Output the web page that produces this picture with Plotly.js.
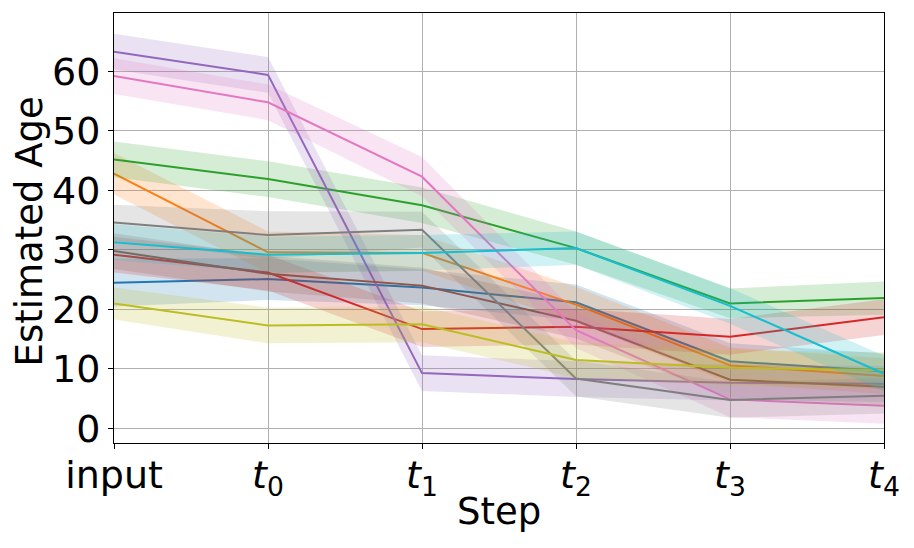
<!DOCTYPE html>
<html>
<head>
<meta charset="utf-8">
<script src="https://cdn.plot.ly/plotly-3.0.1.min.js"></script>
<style>html,body{margin:0;padding:0;background:#fff;}#chart{width:914px;height:548px;}</style>
</head>
<body>
<div id="chart"></div>
<script>
const steps = ["input", "<i>t</i><sub>0</sub>", "<i>t</i><sub>1</sub>", "<i>t</i><sub>2</sub>", "<i>t</i><sub>3</sub>", "<i>t</i><sub>4</sub>"];
const xTitle = "Step";
const yTitle = "Estimated Age";

const mean0 = [24.5, 25.1, 23.7, 21.2, 11.3, 9.6];
const mean1 = [42.8, 29.6, 29.5, 20.8, 10.6, 8.8];
const mean2 = [45.2, 41.9, 37.5, 30.3, 21.0, 21.9];
const mean3 = [29.2, 26.2, 16.7, 17.1, 15.4, 18.7];
const mean4 = [63.3, 59.4, 9.3, 8.3, 7.7, 7.5];
const mean5 = [29.8, 26.0, 24.0, 18.1, 8.2, 7.0];
const mean6 = [59.2, 54.8, 42.3, 16.5, 4.9, 3.8];
const mean7 = [34.6, 32.5, 33.4, 8.4, 4.8, 5.5];
const mean8 = [21.0, 17.3, 17.5, 11.5, 10.2, 9.8];
const mean9 = [31.3, 29.2, 29.5, 30.3, 20.6, 9.2];

const std0 = [4.0, 3.5, 3.0, 3.0, 3.0, 3.0];
const std1 = [3.5, 3.5, 3.0, 3.0, 3.0, 3.0];
const std2 = [3.0, 3.0, 3.0, 2.8, 2.5, 2.8];
const std3 = [3.0, 3.0, 3.0, 3.0, 3.0, 3.0];
const std4 = [3.0, 3.0, 3.0, 3.0, 3.0, 3.0];
const std5 = [3.0, 3.0, 3.0, 3.0, 3.0, 3.0];
const std6 = [3.0, 3.0, 3.3, 3.0, 3.0, 3.0];
const std7 = [3.0, 4.0, 3.0, 3.0, 3.0, 3.0];
const std8 = [2.7, 3.0, 3.0, 3.0, 3.0, 3.0];
const std9 = [3.0, 3.0, 3.0, 2.8, 3.0, 3.0];

const colors = ["#1f77b4", "#ff7f0e", "#2ca02c", "#d62728", "#9467bd", "#8c564b", "#e377c2", "#7f7f7f", "#bcbd22", "#17becf"];
const means = [mean0, mean1, mean2, mean3, mean4, mean5, mean6, mean7, mean8, mean9];
const stds = [std0, std1, std2, std3, std4, std5, std6, std7, std8, std9];

function rgba(hex, a) {
  const r = parseInt(hex.slice(1,3),16), g = parseInt(hex.slice(3,5),16), b = parseInt(hex.slice(5,7),16);
  return `rgba(${r},${g},${b},${a})`;
}

const traces = [];
means.forEach((m, i) => {
  const upper = m.map((v, k) => v + stds[i][k]);
  const lower = m.map((v, k) => v - stds[i][k]);
  traces.push({
    x: steps.concat(steps.slice().reverse()),
    y: upper.concat(lower.slice().reverse()),
    type: "scatter", mode: "lines", fill: "toself",
    fillcolor: rgba(colors[i], 0.2), line: {width: 0, color: "rgba(0,0,0,0)"},
    hoverinfo: "skip", showlegend: false
  });
  traces.push({
    x: steps, y: m, type: "scatter", mode: "lines",
    line: {color: colors[i], width: 2}, showlegend: false
  });
});

const layout = {
  width: 914, height: 548,
  margin: {l: 114, r: 30, t: 13, b: 105},
  paper_bgcolor: "#fff", plot_bgcolor: "#fff",
  font: {family: "DejaVu Sans", size: 37, color: "#000"},
  xaxis: {
    type: "category", categoryorder: "array", categoryarray: steps,
    range: [0, 5], showgrid: true, gridcolor: "#b0b0b0", gridwidth: 1,
    showline: true, linecolor: "#000", linewidth: 1, mirror: true,
    ticks: "outside", ticklen: 5, tickcolor: "#000", zeroline: false,
    tickfont: {size: 38}, automargin: false, ticklabelstandoff: -7
  },
  yaxis: {
    range: [-2.44, 69.8], tickvals: [0, 10, 20, 30, 40, 50, 60],
    showgrid: true, gridcolor: "#b0b0b0", gridwidth: 1,
    showline: true, linecolor: "#000", linewidth: 1, mirror: true,
    ticks: "outside", ticklen: 5, tickcolor: "#000", zeroline: false,
    tickfont: {size: 38}, automargin: false
  },
  annotations: [
    {text: xTitle, xref: "paper", yref: "paper", x: 0.5, y: -0.16,
     xanchor: "center", yanchor: "middle", showarrow: false, font: {size: 37}},
    {text: yTitle, xref: "paper", yref: "paper", x: -0.1104, y: 0.492,
     xanchor: "center", yanchor: "middle", textangle: -90, showarrow: false, font: {size: 37}}
  ]
};

Plotly.newPlot("chart", traces, layout, {displayModeBar: false, staticPlot: true});
</script>
</body>
</html>
